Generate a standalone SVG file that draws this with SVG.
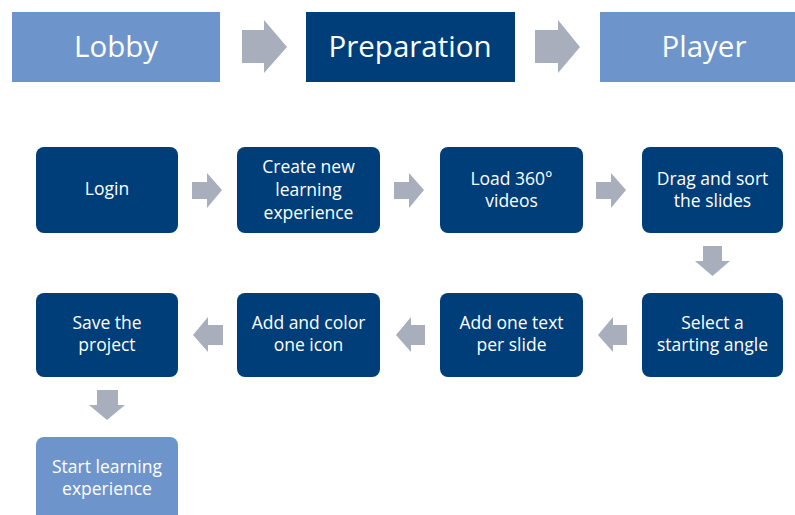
<svg xmlns="http://www.w3.org/2000/svg" width="795" height="515" viewBox="0 0 795 515">
<style>
.dark{fill:#003E79}
.light{fill:#6E95CB}
.arr{fill:#A8AEBB}
.hd{font-family:"Open Sans","Noto Sans",sans-serif;font-size:29.5px;fill:#fff;text-anchor:middle}
.tx{font-family:"Open Sans","Noto Sans",sans-serif;font-size:17.5px;fill:#fff;text-anchor:middle}
</style>
<rect width="795" height="515" fill="#fff"/>
<g id="lobby"><rect class="light" x="12" y="12" width="208" height="70"/><text class="hd" x="116" y="57">Lobby</text></g>
<g id="preparation"><rect class="dark" x="306" y="12" width="209" height="70"/><text class="hd" x="410" y="57">Preparation</text></g>
<g id="player"><rect class="light" x="600" y="12" width="208" height="70"/><text class="hd" x="704" y="57">Player</text></g>

<g id="login"><rect class="dark" x="36" y="147" width="142" height="86" rx="8"/><text class="tx" x="107" y="195">Login</text></g>
<g id="create"><rect class="dark" x="237" y="147" width="143" height="86" rx="8"/><text class="tx" x="308.5"><tspan x="308.5" y="173">Create new</tspan><tspan x="308.5" y="196">learning</tspan><tspan x="308.5" y="219">experience</tspan></text></g>
<g id="load"><rect class="dark" x="440" y="147" width="143" height="86" rx="8"/><text class="tx"><tspan x="511.5" y="185">Load 360°</tspan><tspan x="511.5" y="207">videos</tspan></text></g>
<g id="drag"><rect class="dark" x="642" y="147" width="141" height="86" rx="8"/><text class="tx"><tspan x="712.5" y="185">Drag and sort</tspan><tspan x="712.5" y="207">the slides</tspan></text></g>

<g id="select"><rect class="dark" x="642" y="293" width="141" height="84" rx="8"/><text class="tx"><tspan x="712.5" y="329">Select a</tspan><tspan x="712.5" y="351">starting angle</tspan></text></g>
<g id="addtext"><rect class="dark" x="440" y="293" width="143" height="84" rx="8"/><text class="tx"><tspan x="511.5" y="329">Add one text</tspan><tspan x="511.5" y="351">per slide</tspan></text></g>
<g id="addicon"><rect class="dark" x="237" y="293" width="143" height="84" rx="8"/><text class="tx"><tspan x="308.5" y="329">Add and color</tspan><tspan x="308.5" y="351">one icon</tspan></text></g>
<g id="save"><rect class="dark" x="36" y="293" width="142" height="84" rx="8"/><text class="tx"><tspan x="107" y="329">Save the</tspan><tspan x="107" y="351">project</tspan></text></g>

<g id="start"><path class="light" d="M44,437 H170 A8,8 0 0 1 178,445 V520 H36 V445 A8,8 0 0 1 44,437 Z"/><text class="tx"><tspan x="107" y="473">Start learning</tspan><tspan x="107" y="495">experience</tspan></text></g>

<g id="connectors">
<polygon class="arr" points="242,30 264,30 264,20 287,47 264,73 264,63 242,63"/>
<polygon class="arr" points="535,30 558,30 558,20 580,47 558,73 558,63 535,63"/>
<polygon class="arr" points="192,182 207,182 207,173 222,190 207,208 207,199 192,199"/>
<polygon class="arr" points="394,182 409,182 409,173 424,190 409,208 409,199 394,199"/>
<polygon class="arr" points="596,182 611,182 611,173 626,190 611,208 611,199 596,199"/>
<polygon class="arr" points="703,246 722,246 722,261 730,261 712.5,276 695,261 703,261"/>
<polygon class="arr" points="627,325 613,325 613,317 598,335 613,352 613,345 627,345"/>
<polygon class="arr" points="425,325 411,325 411,317 396,335 411,352 411,345 425,345"/>
<polygon class="arr" points="223,325 208,325 208,317 193,335 208,352 208,345 223,345"/>
<polygon class="arr" points="97,390 118,390 118,405 125,405 107,420 89,405 97,405"/>
</g>
</svg>
